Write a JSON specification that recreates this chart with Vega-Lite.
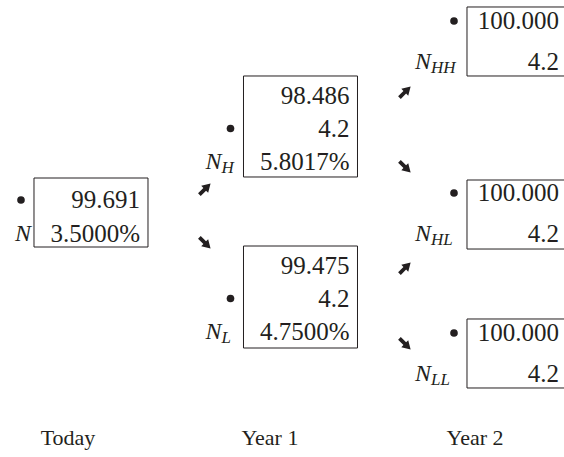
{
  "$schema": "https://vega.github.io/schema/vega-lite/v6.json",
  "width": 564,
  "height": 457,
  "autosize": "none",
  "padding": 0,
  "background": "white",
  "config": {"view": {"stroke": null}, "text": {"font": "Liberation Serif", "fontSize": 25, "color": "#231f20"}},
  "datasets": {
    "nodes": [
      {"node": "N", "step": 0, "top": 61.05, "bottom": 45.95, "by": 56.24, "ly": 48.8, "sub": ""},
      {"node": "NH", "step": 1, "top": 83.37, "bottom": 61.27, "by": 71.88, "ly": 64.66, "sub": "H"},
      {"node": "NL", "step": 1, "top": 46.17, "bottom": 23.85, "by": 34.68, "ly": 27.46, "sub": "L"},
      {"node": "NHH", "step": 2, "top": 98.47, "bottom": 83.37, "by": 95.4, "ly": 86.43, "sub": "HH"},
      {"node": "NHL", "step": 2, "top": 60.61, "bottom": 45.51, "by": 57.77, "ly": 48.8, "sub": "HL"},
      {"node": "NLL", "step": 2, "top": 30.2, "bottom": 15.1, "by": 27.13, "ly": 18.16, "sub": "LL"}
    ],
    "lines": [
      {"step": 0, "v": 56.24, "text": "99.691"},
      {"step": 0, "v": 48.8, "text": "3.5000%"},
      {"step": 1, "v": 79.1, "text": "98.486"},
      {"step": 1, "v": 71.88, "text": "4.2"},
      {"step": 1, "v": 64.66, "text": "5.8017%"},
      {"step": 1, "v": 41.9, "text": "99.475"},
      {"step": 1, "v": 34.68, "text": "4.2"},
      {"step": 1, "v": 27.46, "text": "4.7500%"},
      {"step": 2, "v": 95.4, "text": "100.000"},
      {"step": 2, "v": 86.43, "text": "4.2"},
      {"step": 2, "v": 57.77, "text": "100.000"},
      {"step": 2, "v": 48.8, "text": "4.2"},
      {"step": 2, "v": 27.13, "text": "100.000"},
      {"step": 2, "v": 18.16, "text": "4.2"}
    ],
    "arrows": [
      {"step": 0.272, "v": 58.64, "dir": "up"},
      {"step": 0.272, "v": 46.83, "dir": "down"},
      {"step": 1.227, "v": 79.87, "dir": "up"},
      {"step": 1.227, "v": 63.46, "dir": "down"},
      {"step": 1.227, "v": 41.36, "dir": "up"},
      {"step": 1.227, "v": 24.73, "dir": "down"}
    ],
    "periods": [
      {"step": -0.382, "v": 4.16, "label": "Today"},
      {"step": 0.582, "v": 4.16, "label": "Year 1"},
      {"step": 1.561, "v": 4.16, "label": "Year 2"}
    ]
  },
  "layer": [
    {
      "data": {"name": "nodes"},
      "transform": [{"filter": "datum.step < 2"}],
      "mark": {"type": "rect", "fill": null, "stroke": "#231f20", "strokeWidth": 1, "xOffset": -114},
      "encoding": {
        "x": {"field": "step", "type": "quantitative", "scale": {"domain": [-0.7064, 1.9857], "nice": false, "zero": false}, "axis": null},
        "x2": {"field": "step"},
        "y": {"field": "top", "type": "quantitative", "scale": {"domain": [0, 100], "nice": false, "zero": false}, "axis": null},
        "y2": {"field": "bottom"}
      }
    },
    {
      "data": {"name": "nodes"},
      "transform": [{"filter": "datum.step == 2"}],
      "mark": {"type": "rect", "fill": null, "stroke": "#231f20", "strokeWidth": 1, "xOffset": -100},
      "encoding": {
        "x": {"field": "step", "type": "quantitative", "axis": null},
        "x2": {"field": "step"},
        "y": {"field": "top", "type": "quantitative", "axis": null},
        "y2": {"field": "bottom"}
      }
    },
    {
      "data": {"name": "lines"},
      "mark": {"type": "text", "align": "right", "baseline": "middle", "dx": -8},
      "encoding": {
        "x": {"field": "step", "type": "quantitative", "axis": null},
        "y": {"field": "v", "type": "quantitative", "axis": null},
        "text": {"field": "text"}
      }
    },
    {
      "data": {"name": "nodes"},
      "transform": [{"filter": "datum.step < 2"}],
      "mark": {"type": "point", "shape": "circle", "filled": true, "size": 58, "opacity": 1, "color": "#231f20", "xOffset": -127},
      "encoding": {
        "x": {"field": "step", "type": "quantitative", "axis": null},
        "y": {"field": "by", "type": "quantitative", "axis": null}
      }
    },
    {
      "data": {"name": "nodes"},
      "transform": [{"filter": "datum.step == 2"}],
      "mark": {"type": "point", "shape": "circle", "filled": true, "size": 58, "opacity": 1, "color": "#231f20", "xOffset": -113},
      "encoding": {
        "x": {"field": "step", "type": "quantitative", "axis": null},
        "y": {"field": "by", "type": "quantitative", "axis": null}
      }
    },
    {
      "data": {"name": "nodes"},
      "transform": [{"filter": "datum.step == 0"}],
      "mark": {"type": "text", "align": "right", "baseline": "middle", "dx": -117, "text": "N", "fontStyle": "italic", "fontSize": 24},
      "encoding": {
        "x": {"field": "step", "type": "quantitative", "axis": null},
        "y": {"field": "ly", "type": "quantitative", "axis": null}
      }
    },
    {
      "data": {"name": "nodes"},
      "transform": [{"filter": "datum.step > 0"}],
      "mark": {"type": "text", "align": "right", "baseline": "middle", "dx": -136, "text": "N", "fontStyle": "italic", "fontSize": 24},
      "encoding": {
        "x": {"field": "step", "type": "quantitative", "axis": null},
        "y": {"field": "ly", "type": "quantitative", "axis": null}
      }
    },
    {
      "data": {"name": "nodes"},
      "transform": [{"filter": "datum.step > 0"}],
      "mark": {"type": "text", "align": "left", "baseline": "middle", "dx": -136, "dy": 6, "fontStyle": "italic", "fontSize": 17},
      "encoding": {
        "x": {"field": "step", "type": "quantitative", "axis": null},
        "y": {"field": "ly", "type": "quantitative", "axis": null},
        "text": {"field": "sub"}
      }
    },
    {
      "data": {"name": "arrows"},
      "transform": [{"filter": "datum.dir == 'up'"}],
      "mark": {"type": "point", "shape": "M-0.24,1L0.24,1L0.24,0.05L0.62,0.05L0,-1L-0.62,0.05L-0.24,0.05Z", "filled": true, "opacity": 1, "size": 250, "angle": 45, "color": "#231f20"},
      "encoding": {
        "x": {"field": "step", "type": "quantitative", "axis": null},
        "y": {"field": "v", "type": "quantitative", "axis": null}
      }
    },
    {
      "data": {"name": "arrows"},
      "transform": [{"filter": "datum.dir == 'down'"}],
      "mark": {"type": "point", "shape": "M-0.24,1L0.24,1L0.24,0.05L0.62,0.05L0,-1L-0.62,0.05L-0.24,0.05Z", "filled": true, "opacity": 1, "size": 250, "angle": 135, "color": "#231f20"},
      "encoding": {
        "x": {"field": "step", "type": "quantitative", "axis": null},
        "y": {"field": "v", "type": "quantitative", "axis": null}
      }
    },
    {
      "data": {"name": "periods"},
      "mark": {"type": "text", "align": "center", "baseline": "middle", "fontSize": 22},
      "encoding": {
        "x": {"field": "step", "type": "quantitative", "axis": null},
        "y": {"field": "v", "type": "quantitative", "axis": null},
        "text": {"field": "label"}
      }
    }
  ]
}
